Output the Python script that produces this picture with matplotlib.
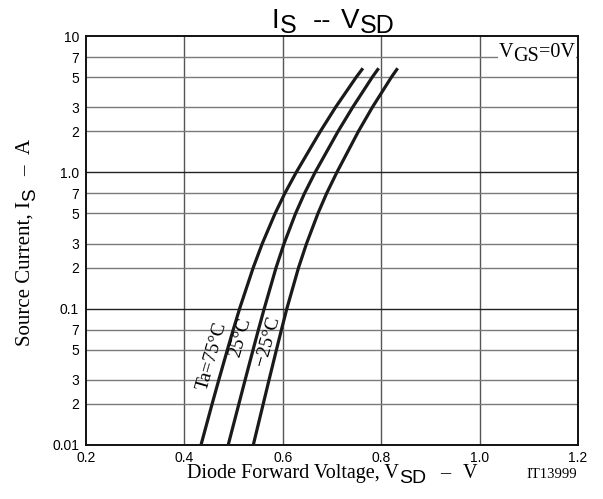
import matplotlib
matplotlib.use("Agg")
import matplotlib.pyplot as plt
from matplotlib.ticker import FixedLocator, NullFormatter, NullLocator

# ---------------- data ----------------
current = [0.01, 0.02, 0.03, 0.05, 0.07, 0.1, 0.2, 0.3, 0.5, 0.7, 1.0, 2.0, 3.0, 5.0, 5.8]
v_75 = [0.4337, 0.4563, 0.4699, 0.4874, 0.4992, 0.5122, 0.5399, 0.5582, 0.5844, 0.6040,
        0.6273, 0.6764, 0.7072, 0.7494, 0.7628]
v_25 = [0.489, 0.5107, 0.5234, 0.5396, 0.5504, 0.5622, 0.5863, 0.6025, 0.6260, 0.6440,
        0.6657, 0.7124, 0.7420, 0.7820, 0.7948]
v_m25 = [0.540, 0.5602, 0.5720, 0.5871, 0.5972, 0.6082, 0.6320, 0.6482, 0.6715, 0.6890,
         0.7099, 0.7538, 0.7820, 0.8209, 0.8334]

x_ticks = [0.2, 0.4, 0.6, 0.8, 1.0, 1.2]
x_ticklabels = ["0.2", "0.4", "0.6", "0.8", "1.0", "1.2"]
y_major = [0.1, 1.0]
y_minor = [0.02, 0.03, 0.05, 0.07, 0.2, 0.3, 0.5, 0.7, 2, 3, 5, 7]
y_ticks = [0.01, 0.02, 0.03, 0.05, 0.07, 0.1, 0.2, 0.3, 0.5, 0.7, 1.0, 2, 3, 5, 7, 10]
y_ticklabels = ["0.01", "2", "3", "5", "7", "0.1", "2", "3", "5", "7", "1.0", "2", "3", "5", "7", "10"]

curve_labels = ["Ta=75°C", "25°C", "\u221225°C"]
curve_label_pos = [(0.457, 0.045), (0.5146, 0.062), (0.569, 0.058)]

W, H = 603, 499
SERIF = 'Liberation Serif'
SANS = 'Liberation Sans'

fig = plt.figure(figsize=(W / 100, H / 100), dpi=100)
ax = fig.add_axes([86 / W, 1 - 445 / H, (578 - 86) / W, (445 - 36) / H])
ax.set_yscale('log')
ax.set_xlim(0.2, 1.2)
ax.set_ylim(0.01, 10)

for v in [0.4, 0.6, 0.8, 1.0]:
    ax.axvline(v, color='#555555', lw=1.0, zorder=1)
for y in y_major:
    ax.axhline(y, color='#222222', lw=1.0, zorder=1)
for y in y_minor:
    ax.axhline(y, color='#7a7a7a', lw=1.0, zorder=1)

for v in (v_75, v_25, v_m25):
    ax.plot(v, current, color='#1a1a1a', lw=2.3, solid_capstyle='butt',
            solid_joinstyle='round', zorder=3)

ax.xaxis.set_major_locator(FixedLocator(x_ticks))
ax.set_xticklabels(x_ticklabels)
ax.yaxis.set_major_locator(FixedLocator(y_ticks))
ax.yaxis.set_minor_locator(NullLocator())
ax.yaxis.set_minor_formatter(NullFormatter())
ax.set_yticklabels(y_ticklabels)
ax.tick_params(axis='both', length=0, labelsize=10)
ax.tick_params(axis='x', pad=4)
ax.tick_params(axis='y', pad=5)
for t in ax.get_xticklabels() + ax.get_yticklabels():
    t.set_fontfamily(SANS)

for s in ax.spines.values():
    s.set_linewidth(1.4)
    s.set_color('#111111')

for txt, (x, y) in zip(curve_labels, curve_label_pos):
    ax.text(x, y, txt, rotation=74, rotation_mode='anchor', ha='center', va='center',
            fontsize=14, family=SERIF, zorder=4)

renderer = fig.canvas.get_renderer()


def hruns(runs, baseline, x_left=None, x_center=None, x_right=None, bbox=None):
    """runs: (text, size, family, drop_px, gap_px_before)"""
    items = []
    total = 0.0
    for s, size, fam, drop, gap in runs:
        t = fig.text(0, 0, s, fontsize=size, family=fam, ha='left', va='baseline')
        w = t.get_window_extent(renderer).width
        items.append((t, w, drop, gap))
        total += gap + w
    if x_center is not None:
        x = x_center - total / 2
    elif x_right is not None:
        x = x_right - total
    else:
        x = x_left
    for t, w, drop, gap in items:
        x += gap
        t.set_position((x / W, 1 - (baseline + drop) / H))
        if bbox is not None:
            t.set_bbox(bbox)
        x += w


def vruns(runs, base_x, y_center):
    """rotated 90 deg text reading bottom->top. drop moves to the right."""
    items = []
    total = 0.0
    for s, size, fam, drop, gap in runs:
        t = fig.text(0, 0, s, fontsize=size, family=fam, ha='left', va='baseline',
                     rotation=90, rotation_mode='anchor')
        h = t.get_window_extent(renderer).height
        items.append((t, h, drop, gap))
        total += gap + h
    y = y_center + total / 2
    for t, h, drop, gap in items:
        y -= gap
        t.set_position(((base_x + drop) / W, 1 - y / H))
        y -= h


# title
hruns([("I", 20, SANS, 0, 0), ("S", 18, SANS, 5, 1), ("--", 20, SANS, 0, 16),
       ("V", 20, SANS, 0, 10), ("SD", 18, SANS, 5, 0)], baseline=28, x_center=333)

# x label
hruns([("Diode Forward Voltage, V", 14.5, SERIF, 0, 0), ("SD", 14, SANS, 5, 0),
       ("\u2013", 14.5, SERIF, 0, 14), ("V", 14.5, SERIF, 0, 12)],
      baseline=478, x_center=332)
hruns([("IT13999", 10.5, SERIF, 0, 0)], baseline=478, x_right=577)

# y label
vruns([("Source Current, I", 15, SERIF, 0, 0), ("S", 13.5, SANS, 5, 0),
       ("\u2013", 15, SERIF, 0, 12), ("A", 15, SERIF, 0, 12)], base_x=30, y_center=242)

# V_GS = 0V annotation
hruns([("V", 14.5, SERIF, 0, 0), ("GS", 14.5, SERIF, 4, 0), ("=0V", 14.5, SERIF, 0, 0)],
      baseline=57, x_right=575,
      bbox=dict(facecolor='white', edgecolor='none', pad=0.5))

fig.savefig("out.png", dpi=100)
